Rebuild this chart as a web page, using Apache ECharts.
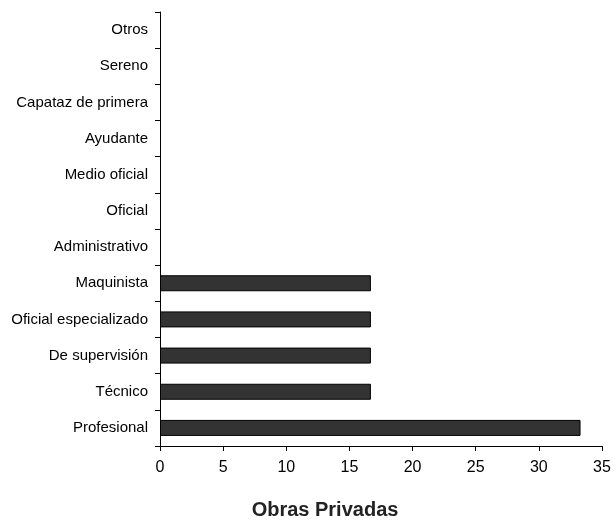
<!DOCTYPE html>
<html>
<head>
<meta charset="utf-8">
<script src="https://cdn.jsdelivr.net/npm/echarts@6/dist/echarts.min.js"></script>
<style>
  html, body { margin: 0; padding: 0; background: #fff; }
  #chart { width: 615px; height: 520px; }
</style>
</head>
<body>
<div id="chart"></div>
<script>
// categorias de abajo hacia arriba
const categories = ['Profesional', 'Técnico', 'De supervisión', 'Oficial especializado', 'Maquinista',
  'Administrativo', 'Oficial', 'Medio oficial', 'Ayudante', 'Capataz de primera', 'Sereno', 'Otros']
const values = [33.3, 16.7, 16.7, 16.7, 16.7, 0, 0, 0, 0, 0, 0, 0]
const xTicks = [0, 35, 5]   // min, max, intervalo

const chart = echarts.init(document.getElementById('chart'))
// las barras en cero no llevan borde
const barData = values.map(v => ({ value: v, itemStyle: { borderWidth: v === 0 ? 0 : 1 } }))
let option = {
    animation: false,
    textStyle: { fontFamily: 'Liberation Sans, Arial, sans-serif' },
    // titulo del eje, centrado en la figura y no en el area de trazado
    title: {
        text: 'Obras Privadas',
        left: 325,
        top: 500,
        textAlign: 'center',
        padding: 0,
        textStyle: { fontSize: 20, fontWeight: 'bold', color: '#222' }
    },
    grid: { left: 160, right: 13, top: 12, bottom: 74, containLabel: false, outerBoundsMode: 'none' },
    xAxis: {
        type: 'value',
        min: xTicks[0],
        max: xTicks[1],
        interval: xTicks[2],
        axisLine: { show: true, lineStyle: { color: '#000', width: 1 } },
        axisTick: { show: true, length: 5, lineStyle: { color: '#000' } },
        axisLabel: { fontSize: 16, color: '#000', margin: 14 },
        splitLine: { show: false }
    },
    yAxis: {
        type: 'category',
        data: categories,
        axisLine: { show: true, lineStyle: { color: '#000', width: 1 } },
        axisTick: { show: true, length: 5, lineStyle: { color: '#000' } },
        axisLabel: { fontSize: 15, color: '#000', margin: 12 },
        splitLine: { show: false }
    },
    series: [
        {
            type: 'bar',
            data: barData,
            barWidth: 16,
            itemStyle: { color: '#333333', borderColor: '#000', borderWidth: 1 }
        }
    ]
}
chart.setOption(option, true)
</script>
</body>
</html>
